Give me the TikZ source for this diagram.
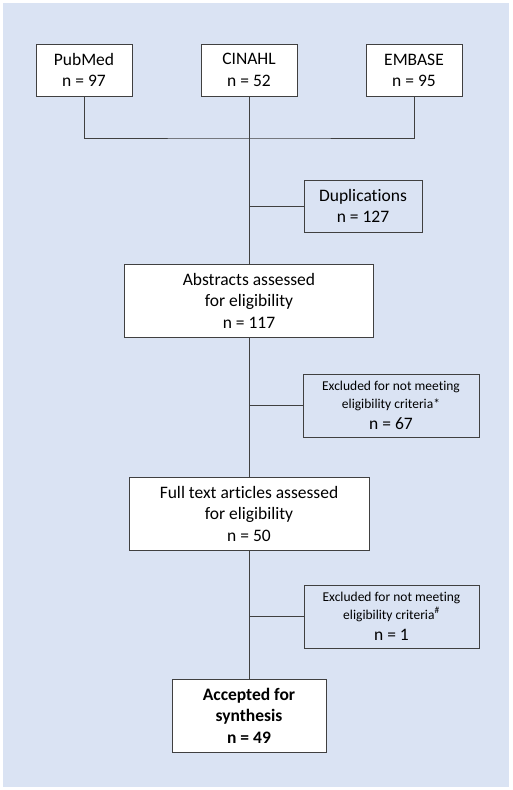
\documentclass[tikz,border=0pt]{standalone}
\usepackage{fontspec}
\setmainfont[Ligatures=NoCommon]{Carlito}
\usetikzlibrary{positioning}

\definecolor{bgblue}{HTML}{DAE3F3}
\definecolor{linegray}{HTML}{404040}
\newcommand{\notefont}{\fontsize{13.5}{17}\selectfont}

\begin{document}
\begin{tikzpicture}[
        x=1pt, y=-1pt,
        box/.style={rectangle, draw=linegray, line width=0.9pt, fill=white, align=center, inner sep=2pt, font=\fontsize{17.5}{21.5}\selectfont},
        excl/.style={rectangle, draw=linegray, line width=0.9pt, fill=bgblue, align=center, inner sep=2pt, font=\fontsize{17.5}{21.5}\selectfont},
        link/.style={draw=linegray, line width=0.9pt}
    ]

    % background
    \useasboundingbox (0,0) rectangle (512,790);
    \fill[bgblue] (3,3) rectangle (509,787);

    % Databases
    \node[box, minimum width=96, minimum height=52] (pubmed) at (84,70) {PubMed\\n = 97};
    \node[box, minimum width=96, minimum height=52] (cinahl) at (249,70) {CINAHL\\n = 52};
    \node[box, minimum width=96, minimum height=52] (embase) at (414,70.5) {EMBASE\\n = 95};
    \coordinate (join) at (249,138);

    % Screening
    \node[excl, minimum width=118, minimum height=52] (dup) at (363,206) {Duplications\\n = 127};
    \node[box, minimum width=249, minimum height=73] (abstracts) at (249,300.5) {Abstracts assessed\\for eligibility\\n = 117};
    \node[excl, minimum width=176, minimum height=63] (excl_a) at (391,405.5) {{\notefont Excluded for not meeting}\\[-4pt]{\notefont eligibility criteria*}\\n = 67};

    % Full text
    \node[box, minimum width=240, minimum height=73] (fulltext) at (249,513.5) {Full text articles assessed\\for eligibility\\n = 50};
    \node[excl, minimum width=175, minimum height=63] (excl_b) at (391.5,616.5) {{\notefont Excluded for not meeting}\\[-4pt]{\notefont eligibility criteria\textsuperscript{\#}}\\n = 1};

    % Result
    \node[box, minimum width=154, minimum height=73, font=\fontsize{17.5}{21.5}\selectfont\bfseries] (accepted) at (249,715.5) {Accepted for\\synthesis\\n = 49};

    % --- Edges ---
    \draw[link] (pubmed) |- (join) -| (embase);
    \draw[link] (cinahl) -- (abstracts);
    \draw[link] (abstracts) -- (fulltext);
    \draw[link] (fulltext) -- (accepted);

    % side branches
    \draw[link] (dup) -- (dup -| cinahl);
    \draw[link] (excl_a) -- (excl_a -| abstracts);
    \draw[link] (excl_b) -- (excl_b -| fulltext);

\end{tikzpicture}
\end{document}
